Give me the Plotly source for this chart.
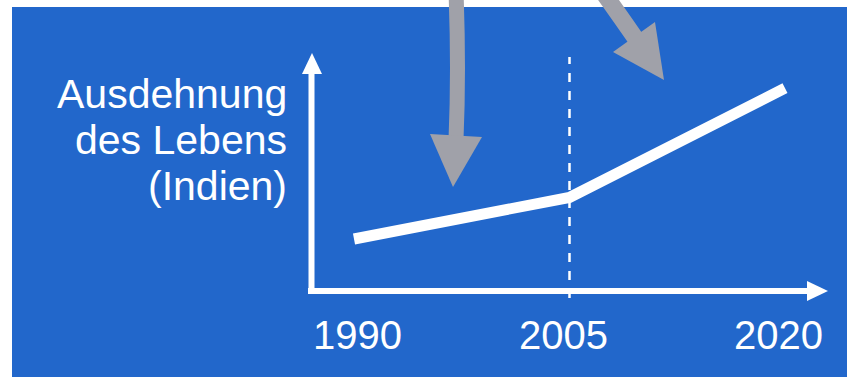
import plotly.graph_objects as go

# ---- data ----
years = [1990, 2005, 2020]
life_extension = [1.0, 1.8, 3.9]
tick_labels = ["1990", "2005", "2020"]
y_label_lines = ["Ausdehnung", "des Lebens", "(Indien)"]
split_year = 2005

W, H = 847, 377
BLUE = "#2267CB"
GRAY = "#A0A1A9"
FONT = "Liberation Sans, Arial, sans-serif"

# scale: data -> pixels (plot area spans entire figure)
px_per_year = (785 - 354) / 30.0
x_left = 1990 - 354 / px_per_year
x_right = x_left + W / px_per_year
px_per_unit = 52.0
axis_px = 291.0
y_bottom = -(H - axis_px) / px_per_unit
y_top = axis_px / px_per_unit


def P(x, y):
    """pixel -> paper coordinates"""
    return x / W, 1 - y / H


def path(points):
    s = ""
    for i, (x, y) in enumerate(points):
        a, b = P(x, y)
        s += ("M" if i == 0 else "L") + f"{a:.5f},{b:.5f} "
    return s + "Z"


fig = go.Figure()
fig.add_trace(go.Scatter(
    x=years, y=life_extension, mode="lines",
    line=dict(color="white", width=11), hoverinfo="skip", showlegend=False,
))

shapes = []
# blue panel
x0, y1 = P(12, 7)
shapes.append(dict(type="rect", xref="paper", yref="paper", x0=x0, x1=1.01, y0=-0.01, y1=y1,
                   fillcolor=BLUE, line=dict(width=0), layer="below"))
# dashed vertical at split year
shapes.append(dict(type="line", xref="x", yref="paper", x0=split_year, x1=split_year,
                   y0=P(0, 298)[1], y1=P(0, 57)[1],
                   line=dict(color="white", width=2.5, dash="dash")))
# y axis
a0, b0 = P(311.5, 294)
a1, b1 = P(311.5, 70)
shapes.append(dict(type="line", xref="paper", yref="paper", x0=a0, y0=b0, x1=a1, y1=b1,
                   line=dict(color="white", width=6)))
shapes.append(dict(type="path", xref="paper", yref="paper",
                   path=path([(302, 74), (322, 74), (312, 53)]), fillcolor="white", line=dict(width=0)))
# x axis
a0, b0 = P(308, 291)
a1, b1 = P(810, 291)
shapes.append(dict(type="line", xref="paper", yref="paper", x0=a0, y0=b0, x1=a1, y1=b1,
                   line=dict(color="white", width=6)))
shapes.append(dict(type="path", xref="paper", yref="paper",
                   path=path([(807, 281), (807, 301), (828, 291)]), fillcolor="white", line=dict(width=0)))
# gray arrow 1 (down)
q0 = P(456, -8); qc = P(459, 70); q1 = P(456, 140)
shapes.append(dict(type="path", xref="paper", yref="paper",
                   path=f"M{q0[0]:.5f},{q0[1]:.5f} Q{qc[0]:.5f},{qc[1]:.5f} {q1[0]:.5f},{q1[1]:.5f}",
                   line=dict(color=GRAY, width=15)))
shapes.append(dict(type="path", xref="paper", yref="paper",
                   path=path([(430, 134), (482, 137), (453, 187)]), fillcolor=GRAY, line=dict(width=0)))
# gray arrow 2 (diagonal)
q0 = P(600, -12); qc = P(620, 16); q1 = P(638, 42)
shapes.append(dict(type="path", xref="paper", yref="paper",
                   path=f"M{q0[0]:.5f},{q0[1]:.5f} Q{qc[0]:.5f},{qc[1]:.5f} {q1[0]:.5f},{q1[1]:.5f}",
                   line=dict(color=GRAY, width=17)))
shapes.append(dict(type="path", xref="paper", yref="paper",
                   path=path([(613, 52), (655, 22), (664, 80)]), fillcolor=GRAY, line=dict(width=0)))

annotations = []
label_shift = [3, -6, -7]
for yr, lab, sh in zip(years, tick_labels, label_shift):
    annotations.append(dict(x=yr, y=P(0, 335)[1], xref="x", yref="paper", text=lab,
                            showarrow=False, xanchor="center", yanchor="middle", xshift=sh,
                            font=dict(family=FONT, size=40, color="white")))
for i, line in enumerate(y_label_lines):
    annotations.append(dict(x=P(289, 0)[0], y=P(0, 94 + 46 * i)[1], xref="paper", yref="paper",
                            text=line, showarrow=False, xanchor="right", yanchor="middle",
                            font=dict(family=FONT, size=41, color="white")))

fig.update_layout(
    width=W, height=H, margin=dict(l=0, r=0, t=0, b=0),
    paper_bgcolor="white", plot_bgcolor="rgba(0,0,0,0)",
    xaxis=dict(range=[x_left, x_right], visible=False, fixedrange=True),
    yaxis=dict(range=[y_bottom, y_top], visible=False, fixedrange=True),
    shapes=shapes, annotations=annotations, showlegend=False,
)
fig.write_html("out.html", config={"displayModeBar": False})
